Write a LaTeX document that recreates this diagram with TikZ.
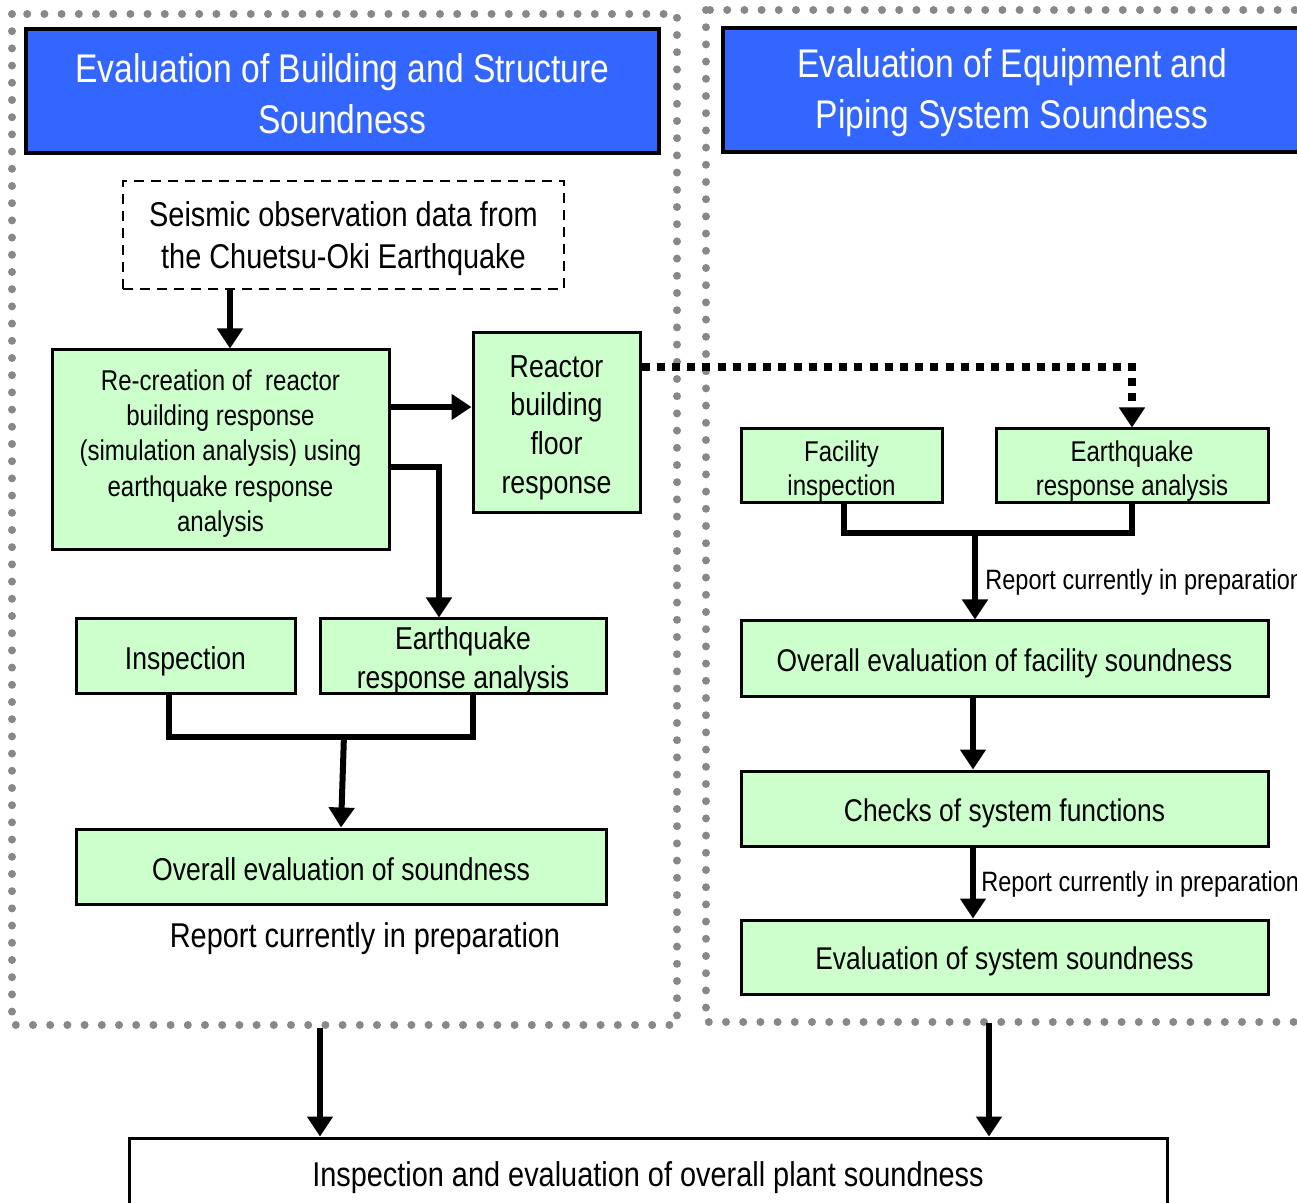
\documentclass[tikz,border=0pt]{standalone}
\usepackage{fontspec}
\setmainfont{Liberation Sans}[FakeStretch=0.84]
\usetikzlibrary{arrows.meta,calc}
\definecolor{hdrblue}{HTML}{3366FF}
\definecolor{boxgreen}{HTML}{CCFFCC}
\definecolor{dotgray}{HTML}{888888}
\tikzset{
  region/.style={draw=dotgray, line width=4pt, line cap=round, dash pattern=on 0pt off 8.6pt},
  header/.style={draw=black, line width=2pt, fill=hdrblue, inner sep=0pt},
  headtext/.style={text=white, align=center, inner sep=0pt, font=\fontsize{20}{25.5}\selectfont},
  gbox/.style={draw=black, line width=1.5pt, fill=boxgreen, inner sep=0pt},
  btext/.style={align=center, inner sep=0pt, font=\fontsize{15.8}{19.5}\selectfont},
  dashbox/.style={draw=black, line width=1.2pt, dash pattern=on 5pt off 3.5pt, inner sep=0pt},
  plainbox/.style={draw=black, line width=1.5pt, fill=white, inner sep=0pt},
  arr/.style={line width=3pt, -{Triangle[width=12.5pt,length=10pt]}},
  link/.style={line width=3pt, line join=miter},
  dotarr/.style={line width=4pt, dash pattern=on 4pt off 3.6pt,
    -{Triangle[width=12.5pt,length=10pt]}},
  note/.style={inner sep=0pt, font=\fontsize{14}{16}\selectfont}
}
\begin{document}
\begin{tikzpicture}[x=0.5pt,y=-0.5pt]
\useasboundingbox (0,0) rectangle (1297,1203);
\clip (0,0) rectangle (1297,1203);

% dotted regions
\draw[region] (12,14) rectangle (677,1025);
\draw[region] (706,10) rectangle (1330,1022);

% headers
\node[header, minimum width=316.5pt, minimum height=62pt] (hl) at (342.5,91) {};
\node[headtext] (hl-t) at ([yshift=-1.2pt]hl.center)
  {Evaluation of Building and Structure\\Soundness};
\node[header, minimum width=289pt, minimum height=62pt] (hr) at (1012,90) {};
\node[headtext] (hr-t) at ([yshift=-1.2pt]hr.center)
  {Evaluation of Equipment and\\Piping System Soundness};

% left column
\node[dashbox, minimum width=220.5pt, minimum height=54pt] (seis) at (343.5,235) {};
\node[btext, font=\fontsize{17.2}{21}\selectfont] (seis-t) at ([yshift=-2pt]seis.center)
  {Seismic observation data from\\the Chuetsu-Oki Earthquake};
\node[gbox, minimum width=168.5pt, minimum height=100pt] (recr) at (220.5,450) {};
\node[btext, font=\fontsize{14.3}{17.6}\selectfont] (recr-t) at ([yshift=-1.8pt]recr.center)
  {Re-creation of\ \ reactor\\building response\\(simulation analysis) using\\earthquake response\\analysis};
\node[gbox, minimum width=83.5pt, minimum height=90pt] (floor) at (556.5,423) {};
\node[btext, font=\fontsize{15.9}{19.4}\selectfont] (floor-t) at ([yshift=-2.3pt]floor.center)
  {Reactor\\building\\floor\\response};
\node[gbox, minimum width=109.5pt, minimum height=37.5pt] (insp) at (185.5,656.5) {};
\node[btext] (insp-t) at ([yshift=-2.3pt]insp.center) {Inspection};
\node[gbox, minimum width=143pt, minimum height=37.5pt] (eql) at (463,656.5) {};
\node[btext] (eql-t) at ([yshift=-2.2pt]eql.center) {Earthquake\\response analysis};
\node[gbox, minimum width=265pt, minimum height=37.5pt] (ovl) at (341,866.5) {};
\node[btext] (ovl-t) at ([yshift=-1.2pt]ovl.center) {Overall evaluation of soundness};
\node[btext, font=\fontsize{17.2}{21}\selectfont] (repl) at (365,939)
  {Report currently in preparation};

% right column
\node[gbox, minimum width=100.5pt, minimum height=37pt] (facin) at (841.5,466) {};
\node[btext, font=\fontsize{14.3}{17}\selectfont] (facin-t) at ([yshift=-2.4pt]facin.center)
  {Facility\\inspection};
\node[gbox, minimum width=136pt, minimum height=37pt] (eqr) at (1132,466) {};
\node[btext, font=\fontsize{14.3}{17}\selectfont] (eqr-t) at ([yshift=-2.4pt]eqr.center)
  {Earthquake\\response analysis};
\node[gbox, minimum width=263.5pt, minimum height=38pt] (ovr) at (1004.5,659) {};
\node[btext, font=\fontsize{15.7}{19}\selectfont] (ovr-t) at ([yshift=-2pt]ovr.center)
  {Overall evaluation of facility soundness};
\node[gbox, minimum width=263.5pt, minimum height=37.5pt] (chk) at (1004.5,808.5) {};
\node[btext, font=\fontsize{15.7}{19}\selectfont] (chk-t) at ([yshift=-2.4pt]chk.center)
  {Checks of system functions};
\node[gbox, minimum width=263.5pt, minimum height=37pt] (esys) at (1004.5,957) {};
\node[btext, font=\fontsize{15.7}{19}\selectfont] (esys-t) at ([yshift=-2pt]esys.center)
  {Evaluation of system soundness};
\node[note, anchor=west] (rep1) at (985,582) {Report currently in preparation};
\node[note, anchor=west] (rep2) at (981,884) {Report currently in preparation};

% bottom box
\node[plainbox, minimum width=519pt, minimum height=38.5pt] (final) at (648,1176.5) {};
\node[btext, font=\fontsize{17.2}{21}\selectfont] (final-t) at ([yshift=-0.6pt]final.center)
  {Inspection and evaluation of overall plant soundness};

% connectors, left column
\draw[arr] ([xshift=-56.75pt]seis.south) -- ([xshift=-56.75pt]seis.south |- recr.north);
\draw[arr] ([yshift=21.5pt]recr.east) -- ([yshift=21.5pt]recr.east -| floor.west);
\draw[arr, line join=miter] ([yshift=-8.5pt]recr.east) -| ([xshift=-12pt]eql.north);
\draw[link] ([xshift=-8.25pt]insp.south) -- ++(0,41) coordinate (jl0) -| ([xshift=5pt]eql.south);
\coordinate (jl) at (344,735);
\draw[arr] (jl) -- (ovl.north);

% connectors, right column
\draw[dotarr] ([yshift=28pt]floor.east) -| (eqr.north);
\draw[link] ([xshift=1.25pt]facin.south) -- ++(0,29) -| (eqr.south);
\coordinate (jr) at (975,532);
\draw[arr] (jr) -- (jr |- ovr.north);
\draw[arr] ([xshift=-15.75pt]ovr.south) -- ([xshift=-15.75pt]chk.north);
\draw[arr] ([xshift=-15.75pt]chk.south) -- ([xshift=-15.75pt]esys.north);

% links down to the bottom box
\coordinate (lb) at (320,1028);
\coordinate (rb) at (989,1023);
\draw[arr] (lb) -- (lb |- final.north);
\draw[arr] (rb) -- (rb |- final.north);
\end{tikzpicture}
\end{document}
